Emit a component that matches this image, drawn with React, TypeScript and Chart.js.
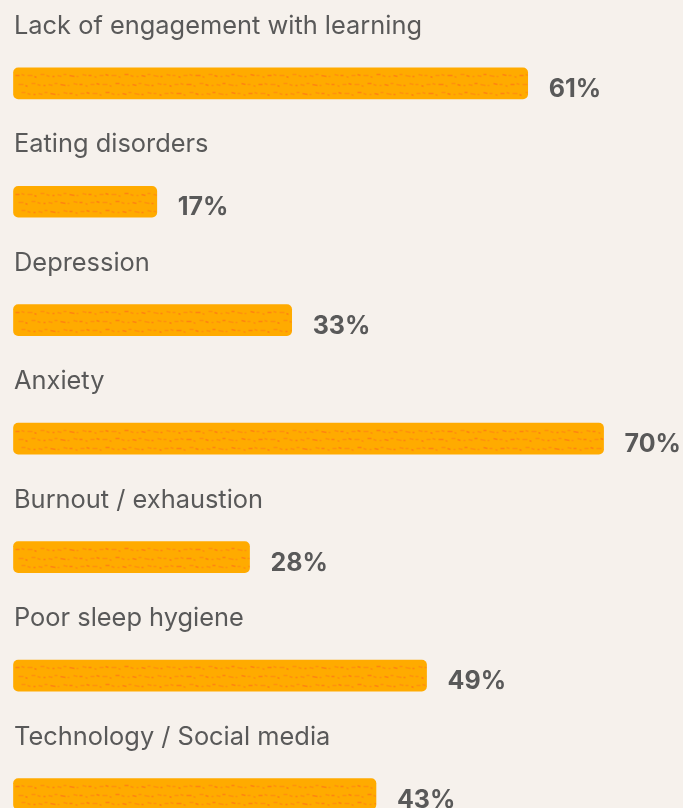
import { useEffect, useRef } from 'react';
import { Chart, registerables } from 'chart.js';

Chart.register(...registerables);

const categories = [
  'Lack of engagement with learning',
  'Eating disorders',
  'Depression',
  'Anxiety',
  'Burnout / exhaustion',
  'Poor sleep hygiene',
  'Technology / Social media',
];
const values = [61, 17, 33, 70, 28, 49, 43];
const valueLabels = ['61%', '17%', '33%', '70%', '28%', '49%', '43%'];

const BG = '#F6F1EC';
const TEXT = '#595959';
const BAR = '#FFAB00';
const FONT = 'Inter';

// decorative dash motif (length, gap, dy) repeated along each row
const motif = [
  [4, 2, 0], [3, 3, -1], [5, 2, 0], [2, 4, 1], [4, 2, -1], [3, 3, 0], [2, 3, 1],
];

const labelPlugin = {
  id: 'barLabels',
  afterDatasetsDraw(chart: any) {
    const ctx: CanvasRenderingContext2D = chart.ctx;
    const meta = chart.getDatasetMeta(0);
    meta.data.forEach((bar: any, i: number) => {
      const { x, y, base, height } = bar.getProps(['x', 'y', 'base', 'height'], true);
      const left = Math.min(base, x);
      const right = Math.max(base, x);
      const top = y - height / 2;
      // texture
      ctx.save();
      ctx.beginPath();
      ctx.roundRect(left, top, right - left, height, 5);
      ctx.clip();
      ctx.lineWidth = 1.4;
      ctx.lineCap = 'butt';
      const rows = [0.24, 0.52, 0.8];
      rows.forEach((r, ri) => {
        const ry = Math.round(top + height * r) + 0.5;
        let sx = left + 2 + ri * 3;
        let n = ri * 2;
        while (sx < right) {
          const [len, gap, dy] = motif[n % motif.length];
          ctx.strokeStyle = n % 3 === 0 ? 'rgba(255,100,30,0.55)' : 'rgba(255,130,20,0.6)';
          ctx.beginPath();
          ctx.moveTo(sx, ry + dy);
          ctx.lineTo(sx + len, ry + dy + (n % 2 ? 1 : 0));
          ctx.stroke();
          sx += len + gap;
          n++;
        }
      });
      ctx.restore();
      // text
      ctx.save();
      ctx.fillStyle = TEXT;
      ctx.textBaseline = 'alphabetic';
      ctx.textAlign = 'left';
      ctx.font = `400 25.4px ${FONT}`;
      ctx.fillText(categories[i], 14, y - 49.5);
      ctx.font = `700 25px ${FONT}`;
      ctx.fillText(valueLabels[i], right + 21, y + 13.5);
      ctx.restore();
    });
  },
};

export default function App() {
  const ref = useRef<HTMLCanvasElement>(null);
  useEffect(() => {
    document.body.style.margin = '0';
    document.body.style.background = BG;
    const chart = new Chart(ref.current!, {
      type: 'bar',
      data: {
        labels: categories,
        datasets: [
          {
            data: values,
            backgroundColor: BAR,
            borderRadius: 5,
            borderSkipped: false,
            barThickness: 31,
            clip: false as any,
          },
        ],
      },
      options: {
        indexAxis: 'y',
        responsive: false,
        animation: false,
        devicePixelRatio: 1,
        layout: { padding: { left: 13.5, right: 12, top: 83.3, bottom: 14 } },
        plugins: { legend: { display: false }, tooltip: { enabled: false } },
        scales: {
          x: { type: 'linear', min: 0, max: 78, display: false, grid: { display: false } },
          y: { type: 'category', offset: false, display: false, grid: { display: false } },
        },
      },
      plugins: [labelPlugin],
    });
    return () => chart.destroy();
  }, []);
  return (
    <div style={{ position: 'fixed', left: 0, top: 0, width: 683, height: 808, background: BG }}>
      <canvas ref={ref} width={683} height={808} style={{ display: 'block', width: 683, height: 808 }} />
    </div>
  );
}
